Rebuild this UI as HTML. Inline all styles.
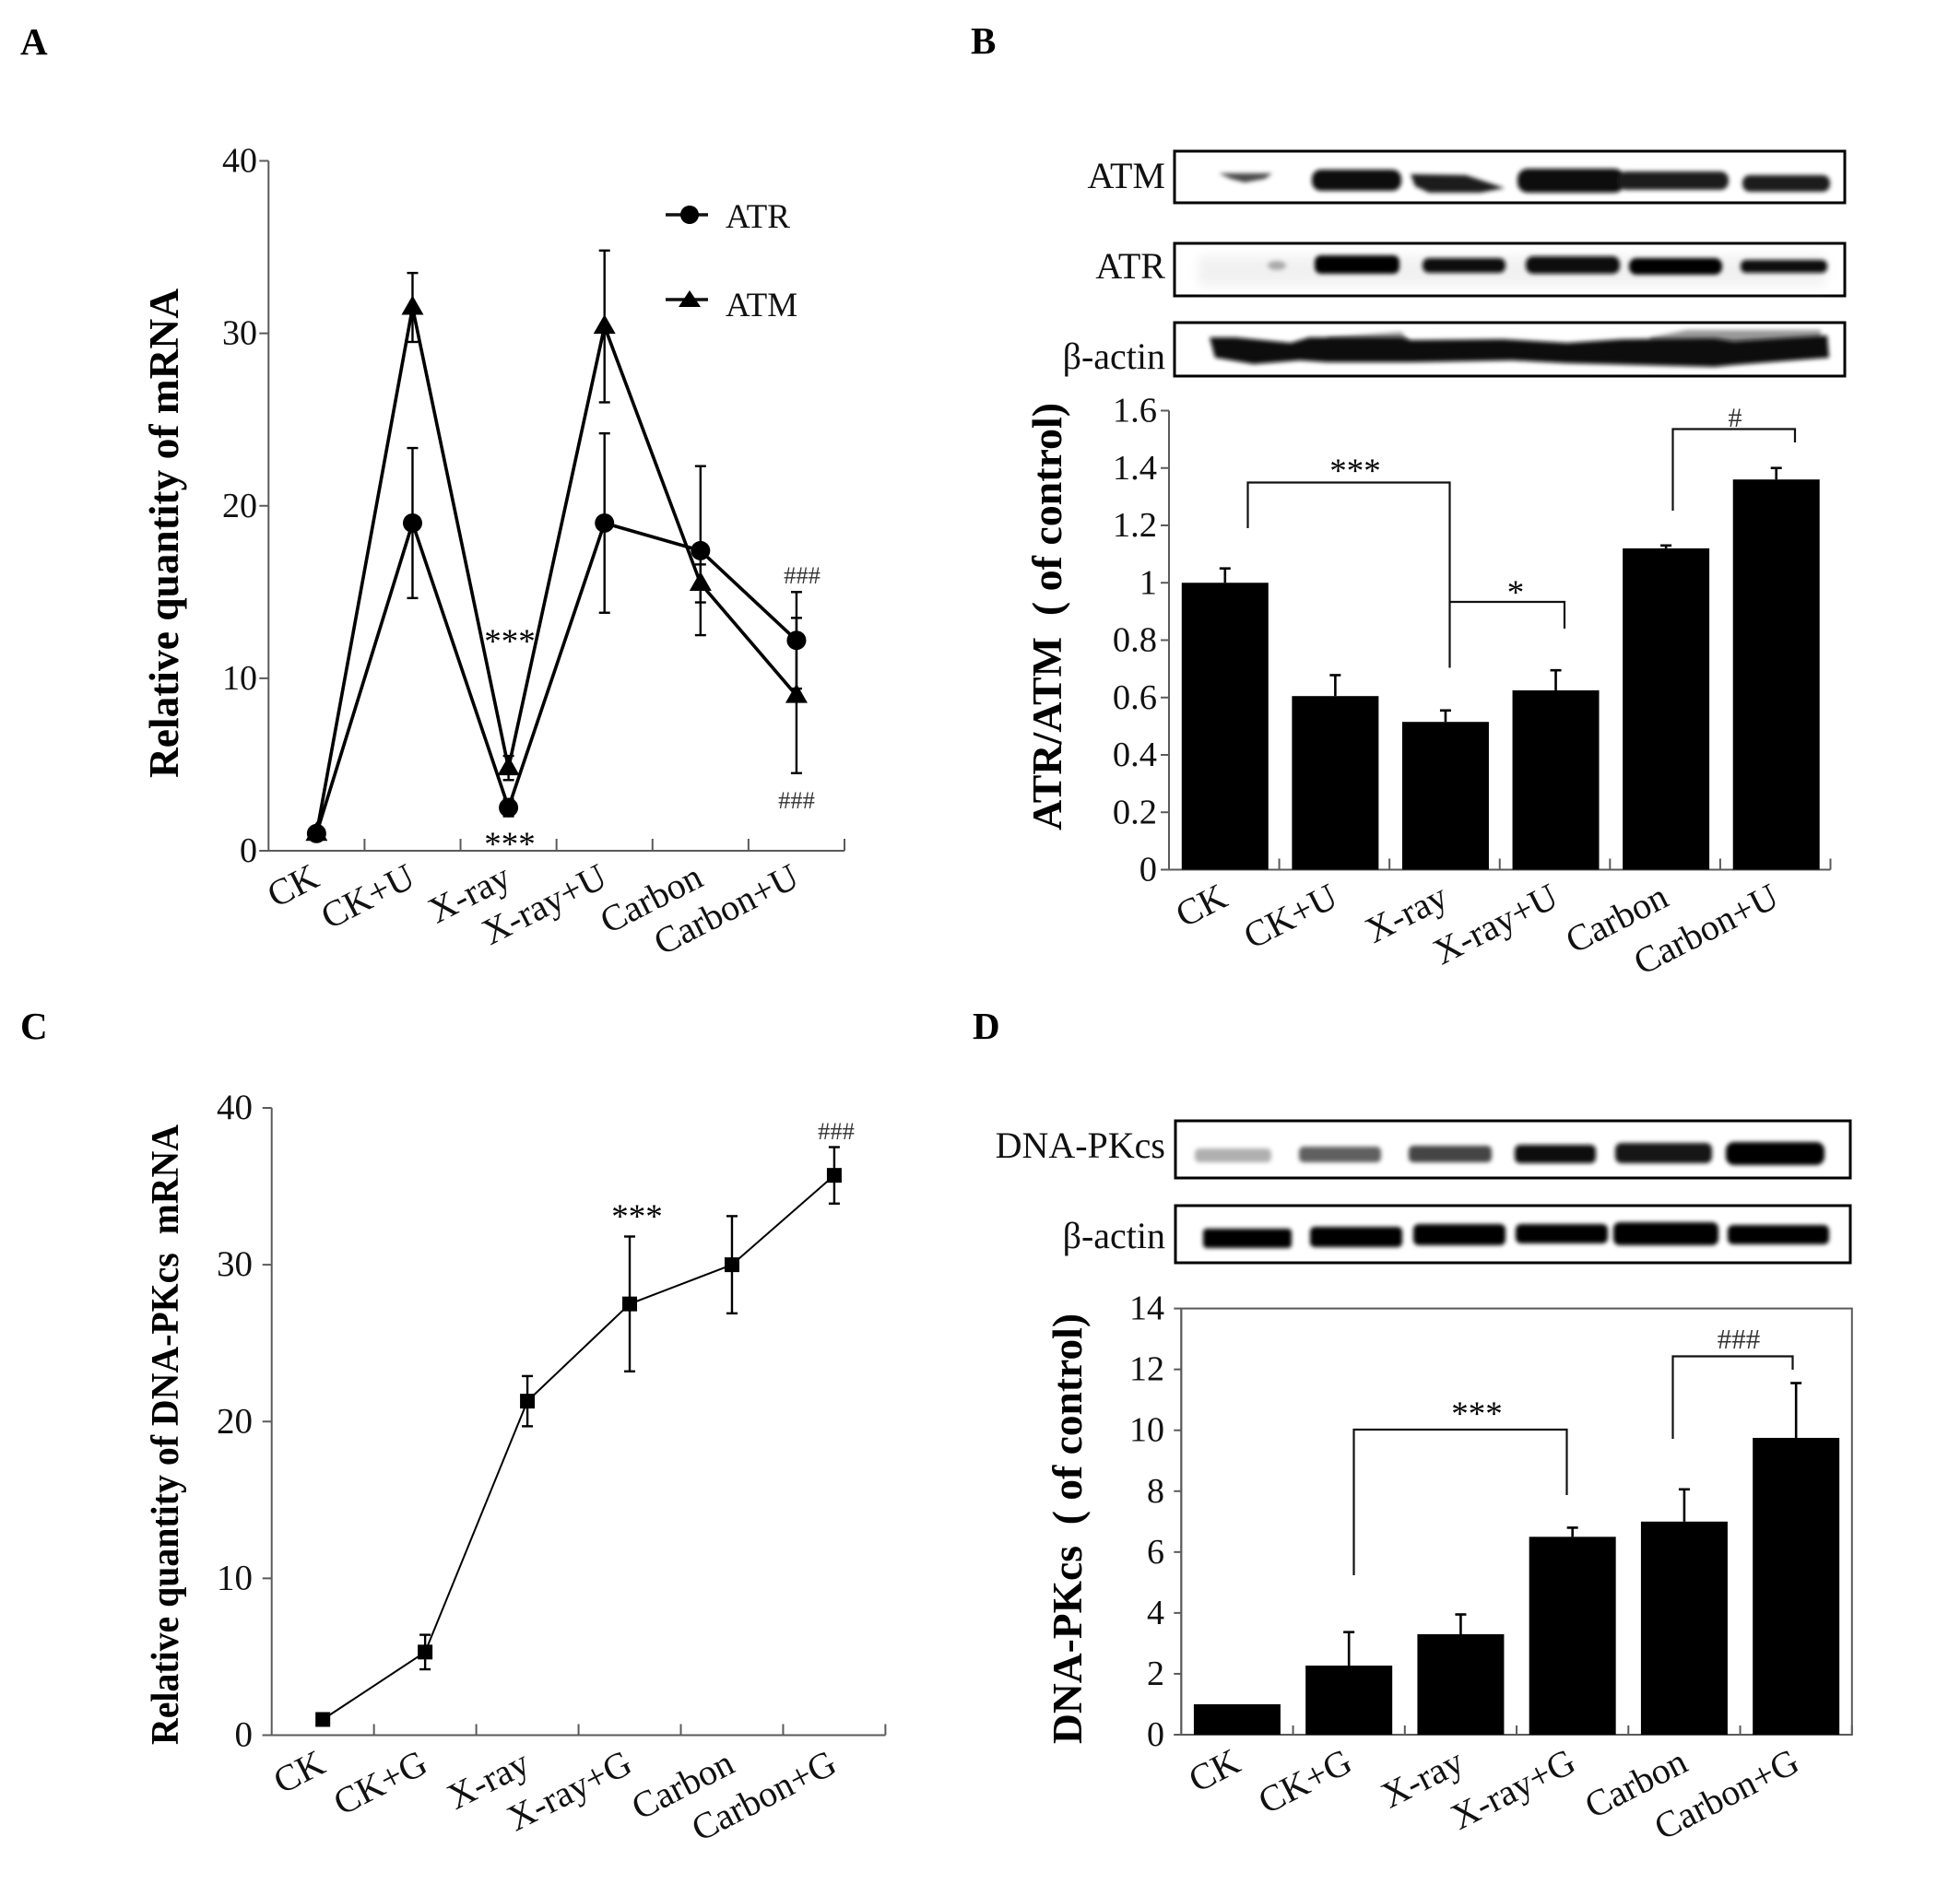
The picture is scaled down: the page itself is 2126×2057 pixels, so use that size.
<!DOCTYPE html>
<html lang="en">
<head>
<meta charset="utf-8">
<title>ATR, ATM and DNA-PKcs expression</title>
<style>
html,body{margin:0;padding:0;background:#fff;}
svg{display:block;}
text{font-family:"Liberation Serif",serif;fill:#111;}
.panel{font-weight:bold;font-size:41px;fill:#000;}
.title{font-weight:bold;fill:#000;}
.cat{font-size:40px;}
.blot-label{font-size:40px;}
.star{font-size:37px;fill:#000;}
.hash{fill:#333;}
.box{fill:#fff;stroke:#000;stroke-width:3;}
.br{fill:none;stroke:#111;stroke-width:2.2;}
</style>
</head>
<body>
<svg id="fig" xmlns="http://www.w3.org/2000/svg" width="2126" height="2057" viewBox="0 0 2126 2057">
<defs>
<filter id="b3" x="-20%" y="-60%" width="140%" height="220%"><feGaussianBlur stdDeviation="2.4"/></filter>
<filter id="b6" x="-20%" y="-80%" width="140%" height="260%"><feGaussianBlur stdDeviation="6"/></filter>
</defs>
<rect width="2126" height="2057" fill="#fff"/>

<text class="panel" x="22" y="59">A</text>
<text class="panel" x="1053" y="58">B</text>
<text class="panel" x="22" y="1127">C</text>
<text class="panel" x="1055" y="1127">D</text>

<text class="title" transform="translate(193,844) rotate(-90)" font-size="45" textLength="531" lengthAdjust="spacingAndGlyphs">Relative quantity of mRNA</text>
<text class="title" transform="translate(1151,901) rotate(-90)" font-size="45" textLength="464" lengthAdjust="spacingAndGlyphs" xml:space="preserve">ATR/ATM  ( of control)</text>
<text class="title" transform="translate(193,1893) rotate(-90)" font-size="42" textLength="673" lengthAdjust="spacingAndGlyphs" xml:space="preserve">Relative quantity of DNA-PKcs  mRNA</text>
<text class="title" transform="translate(1173,1892) rotate(-90)" font-size="45" textLength="467" lengthAdjust="spacingAndGlyphs" xml:space="preserve">DNA-PKcs  ( of control)</text>

<!-- Panel B blots -->
<g>
<rect class="box" x="1274" y="164" width="727" height="56"/>
<g filter="url(#b3)" fill="#0b0b0b">
<path d="M1322 188 L1380 188 L1372 194 L1350 198 L1335 194 Z" fill="#4a4a4a"/>
<rect x="1423" y="184" width="97" height="23" rx="10"/>
<path d="M1530 189 L1590 190 L1632 204 L1606 209 L1550 209 L1535 202 Z" fill="#1c1c1c"/>
<rect x="1646" y="183" width="116" height="26" rx="11"/>
<rect x="1755" y="186" width="120" height="20" rx="9" fill="#1a1a1a"/>
<rect x="1890" y="190" width="95" height="18" rx="8" fill="#1c1c1c"/>
</g>
<text class="blot-label" x="1264" y="204" text-anchor="end">ATM</text>
</g>
<g>
<rect class="box" x="1274" y="264" width="727" height="57"/>
<rect x="1300" y="278" width="680" height="32" fill="#f1f1f1" filter="url(#b6)"/>
<g filter="url(#b3)" fill="#060606">
<ellipse cx="1385" cy="288" rx="10" ry="5" fill="#aaa"/>
<rect x="1426" y="277" width="92" height="20" rx="7"/>
<rect x="1543" y="280" width="90" height="16" rx="7" fill="#101010"/>
<rect x="1655" y="278" width="102" height="19" rx="8" fill="#101010"/>
<rect x="1767" y="280" width="101" height="18" rx="8"/>
<rect x="1888" y="282" width="94" height="14" rx="6" fill="#101010"/>
</g>
<text class="blot-label" x="1264" y="302" text-anchor="end">ATR</text>
</g>
<g>
<rect class="box" x="1274" y="350" width="727" height="58"/>
<path d="M1440 366 L1520 360 L1530 372 L1440 374 Z M1790 366 L1830 358 L1975 358 L1975 372 L1790 374 Z" fill="#999" filter="url(#b3)"/>
<path d="M1312 366 L1340 366 L1400 372 L1420 366 L1520 366 L1530 369 L1630 368 L1700 372 L1760 368 L1860 367 L1880 370 L1982 364 L1984 388 L1880 396 L1860 398 L1780 396 L1700 394 L1640 391 L1530 393 L1440 393 L1410 391 L1360 395 L1318 388 Z" fill="#080808" filter="url(#b3)"/>
<text class="blot-label" x="1264" y="400" text-anchor="end">β-actin</text>
</g>

<!-- Panel D blots -->
<g>
<rect class="box" x="1275" y="1216" width="732" height="62"/>
<g filter="url(#b3)">
<rect x="1296" y="1246" width="83" height="15" rx="5" fill="#b0b0b0"/>
<rect x="1409" y="1244" width="89" height="17" rx="5" fill="#606060"/>
<rect x="1528" y="1243" width="90" height="18" rx="5" fill="#444"/>
<rect x="1643" y="1242" width="88" height="20" rx="6" fill="#080808"/>
<rect x="1752" y="1240" width="105" height="22" rx="7" fill="#121212"/>
<rect x="1872" y="1239" width="107" height="25" rx="9" fill="#030303"/>
</g>
<text class="blot-label" x="1264" y="1256" text-anchor="end">DNA-PKcs</text>
</g>
<g>
<rect class="box" x="1275" y="1308" width="732" height="62"/>
<g filter="url(#b3)" fill="#030303">
<rect x="1305" y="1333" width="96" height="21" rx="4"/>
<rect x="1421" y="1331" width="100" height="22" rx="5"/>
<rect x="1533" y="1328" width="100" height="23" rx="6"/>
<rect x="1644" y="1328" width="100" height="21" rx="6"/>
<rect x="1750" y="1326" width="114" height="25" rx="7"/>
<rect x="1874" y="1329" width="110" height="21" rx="6"/>
</g>
<text class="blot-label" x="1264" y="1354" text-anchor="end">β-actin</text>
</g>

<g id="chartA"></g>
<g id="chartB"></g>
<g id="chartC"></g>
<g id="chartD"></g>

<!-- Significance annotations -->
<g>
<text class="star" x="553" y="708" text-anchor="middle">***</text>
<text class="star" x="553" y="928" text-anchor="middle">***</text>
<text class="hash" x="870" y="633" text-anchor="middle" font-size="26.5">###</text>
<text class="hash" x="864" y="877" text-anchor="middle" font-size="26.5">###</text>
</g>
<g>
<polyline class="br" points="1353.5,573 1353.5,523.5 1572.5,523.5 1572.5,724.5"/>
<polyline class="br" points="1573,653 1697,653 1697,682"/>
<polyline class="br" points="1814.5,554 1814.5,465.5 1947,465.5 1947,480"/>
<text class="star" x="1470" y="523" text-anchor="middle">***</text>
<text class="star" x="1644" y="655" text-anchor="middle">*</text>
<text class="hash" x="1882" y="463" text-anchor="middle" font-size="30">#</text>
</g>
<g>
<text class="star" x="691" y="1332" text-anchor="middle">***</text>
<text class="hash" x="907" y="1236" text-anchor="middle" font-size="26.5">###</text>
</g>
<g>
<polyline class="br" points="1468.5,1709 1468.5,1551 1699.5,1551 1699.5,1622"/>
<polyline class="br" points="1814.5,1561 1814.5,1471.5 1944.5,1471.5 1944.5,1486"/>
<text class="star" x="1602" y="1546" text-anchor="middle">***</text>
<text class="hash" x="1886" y="1463" text-anchor="middle" font-size="31">###</text>
</g>

<!-- Legend for panel A -->
<g>
<line x1="722" x2="768" y1="233" y2="233" stroke="#111" stroke-width="3.6"/>
<circle cx="748" cy="233" r="10" fill="#000"/>
<text x="787" y="247" font-size="37">ATR</text>
<line x1="722" x2="768" y1="325" y2="325" stroke="#111" stroke-width="3.6"/>
<polygon points="748,315 760,333 736,333" fill="#000"/>
<text x="787" y="343" font-size="37">ATM</text>
</g>
</svg>

<script>
// Panel A: relative mRNA quantity
const categoriesA = ['CK', 'CK+U', 'X-ray', 'X-ray+U', 'Carbon', 'Carbon+U'];
const atrValues = [1, 19, 2.5, 19, 17.4, 12.2];
const atrErrors = [0, 4.35, 0.5, 5.2, 4.9, 2.8];
const atmValues = [1, 31.5, 4.8, 30.4, 15.5, 9];
const atmErrors = [0, 2, 0.7, 4.4, 1.1, 4.5];
const ticksA = [0, 10, 20, 30, 40];

// Panel B: ATR/ATM ratio
const categoriesB = ['CK', 'CK+U', 'X-ray', 'X-ray+U', 'Carbon', 'Carbon+U'];
const ratioValues = [1, 0.605, 0.515, 0.625, 1.12, 1.36];
const ratioErrors = [0.05, 0.073, 0.04, 0.07, 0.01, 0.04];
const ticksB = [0, 0.2, 0.4, 0.6, 0.8, 1, 1.2, 1.4, 1.6];

// Panel C: DNA-PKcs mRNA
const categoriesC = ['CK', 'CK+G', 'X-ray', 'X-ray+G', 'Carbon', 'Carbon+G'];
const pkcsMrnaValues = [1, 5.3, 21.3, 27.5, 30, 35.7];
const pkcsMrnaErrors = [0, 1.1, 1.6, 4.3, 3.1, 1.8];
const ticksC = [0, 10, 20, 30, 40];

// Panel D: DNA-PKcs protein
const categoriesD = ['CK', 'CK+G', 'X-ray', 'X-ray+G', 'Carbon', 'Carbon+G'];
const pkcsProteinValues = [1, 2.27, 3.3, 6.5, 7, 9.75];
const pkcsProteinErrors = [0, 1.1, 0.65, 0.3, 1.06, 1.8];
const ticksD = [0, 2, 4, 6, 8, 10, 12, 14];

const NS = 'http://www.w3.org/2000/svg';
function make(parent, tag, attrs, text) {
  const node = document.createElementNS(NS, tag);
  for (const key in attrs) node.setAttribute(key, attrs[key]);
  if (text !== undefined) node.textContent = text;
  parent.appendChild(node);
  return node;
}
function scaleX(left, right, count) {
  return function (i) { return left + (right - left) * (i + 0.5) / count; };
}
function scaleY(bottom, top, max) {
  return function (v) { return bottom - (bottom - top) * v / max; };
}
function drawAxes(root, o, cats, ticks, x, y) {
  const axisColor = '#5a5a5a';
  const yLine = make(root, 'line', {x1: o.left, x2: o.left, y1: o.top, y2: o.bottom, stroke: axisColor, 'stroke-width': 2});
  
  
  const xLine = make(root, 'line', {x1: o.left - o.tickY, x2: o.right, y1: o.bottom, y2: o.bottom, stroke: axisColor, 'stroke-width': 2});
  
  
  ticks.forEach(function (t) {
    const tick = make(root, 'line', {x1: o.left - o.tickY, x2: o.left, y1: y(t), y2: y(t), stroke: axisColor, 'stroke-width': 2});
    
    
    const label = make(root, 'text', {x: o.labelRight, y: y(t) + 12, 'text-anchor': 'end', 'font-size': o.tickFont}, String(t));
    
    
  });
  const step = (o.right - o.left) / cats.length;
  cats.forEach(function (c, i) {
    const tx = o.left + step * (i + 1);
    const tick = make(root, 'line', {x1: tx, x2: tx, y1: o.bottom - o.tickX, y2: o.bottom, stroke: axisColor, 'stroke-width': 2});
    
    
    const lx = x(i) + o.catDx;
    const ly = o.bottom + o.catDy;
    const label = make(root, 'text', {class: 'cat', 'text-anchor': 'end', transform: 'translate(' + lx + ',' + ly + ') rotate(-27)'}, c);
    
    
  });
}
function drawError(root, px, hi, lo, cap, width, name) {
  const stem = make(root, 'line', {x1: px, x2: px, y1: hi, y2: lo, stroke: '#000', 'stroke-width': width});
  
  
  const capTop = make(root, 'line', {x1: px - cap, x2: px + cap, y1: hi, y2: hi, stroke: '#000', 'stroke-width': width});
  
  
  if (lo !== hi) {
    const capLow = make(root, 'line', {x1: px - cap, x2: px + cap, y1: lo, y2: lo, stroke: '#000', 'stroke-width': width});
    
    
  }
}
function drawLine(root, values, x, y, width, name) {
  const pts = values.map(function (v, i) { return x(i) + ',' + y(v); }).join(' ');
  const line = make(root, 'polyline', {points: pts, fill: 'none', stroke: '#000', 'stroke-width': width, 'stroke-linejoin': 'miter'});
  
  
}
function drawBars(root, values, errors, x, y, bottom, width, shift) {
  values.forEach(function (v, i) {
    const cx = x(i) + shift;
    const top = y(v);
    const err = y(v + errors[i]);
    if (errors[i] > 0) {
      const stem = make(root, 'line', {x1: cx, x2: cx, y1: err, y2: top, stroke: '#000', 'stroke-width': 2.6});
      
      
      const cap = make(root, 'line', {x1: cx - 6, x2: cx + 6, y1: err, y2: err, stroke: '#000', 'stroke-width': 2.6});
      
      
    }
    const bar = make(root, 'rect', {x: cx - width / 2, y: top, width: width, height: bottom - top, fill: '#000'});
    
    
  });
}

// ---- Panel A ----
const layoutA = {left: 291.3, right: 916, top: 174.5, bottom: 923, tickY: 10, tickX: 13, labelRight: 279, tickFont: 38, catDx: 5, catDy: 37};
const xA = scaleX(layoutA.left, layoutA.right, categoriesA.length);
const yA = scaleY(layoutA.bottom, layoutA.top, 40);
const rootA = document.getElementById('chartA');
drawAxes(rootA, layoutA, categoriesA, ticksA, xA, yA);
atrValues.forEach(function (v, i) {
  if (atrErrors[i] > 0) drawError(rootA, xA(i), yA(v + atrErrors[i]), yA(v - atrErrors[i]), 6, 2.4, 'atr-error-bar');
});
atmValues.forEach(function (v, i) {
  if (atmErrors[i] > 0) drawError(rootA, xA(i), yA(v + atmErrors[i]), yA(v - atmErrors[i]), 6, 2.4, 'atm-error-bar');
});
drawLine(rootA, atrValues, xA, yA, 3.6, 'atr-line');
drawLine(rootA, atmValues, xA, yA, 3.6, 'atm-line');
atmValues.forEach(function (v, i) {
  const cx = xA(i);
  const cy = yA(v);
  const tri = make(rootA, 'polygon', {points: cx + ',' + (cy - 13) + ' ' + (cx + 12) + ',' + (cy + 8) + ' ' + (cx - 12) + ',' + (cy + 8), fill: '#000'});
  
  
});
atrValues.forEach(function (v, i) {
  const dot = make(rootA, 'circle', {cx: xA(i), cy: yA(v), r: 10.5, fill: '#000'});
  
  
});

// ---- Panel B ----
const layoutB = {left: 1268, right: 1985.5, top: 445.5, bottom: 943.5, tickY: 9, tickX: 12, labelRight: 1255, tickFont: 38.5, catDx: 6, catDy: 38};
const xB = scaleX(layoutB.left, layoutB.right, categoriesB.length);
const yB = scaleY(layoutB.bottom, layoutB.top, 1.6);
const rootB = document.getElementById('chartB');
drawAxes(rootB, layoutB, categoriesB, ticksB, xB, yB);
drawBars(rootB, ratioValues, ratioErrors, xB, yB, layoutB.bottom, 94, 1);

// ---- Panel C ----
const layoutC = {left: 294.7, right: 960.4, top: 1202, bottom: 1882.5, tickY: 10, tickX: 12, labelRight: 274, tickFont: 39, catDx: 5, catDy: 39};
const xC = scaleX(layoutC.left, layoutC.right, categoriesC.length);
const yC = scaleY(layoutC.bottom, layoutC.top, 40);
const rootC = document.getElementById('chartC');
drawAxes(rootC, layoutC, categoriesC, ticksC, xC, yC);
pkcsMrnaValues.forEach(function (v, i) {
  if (pkcsMrnaErrors[i] > 0) drawError(rootC, xC(i), yC(v + pkcsMrnaErrors[i]), yC(v - pkcsMrnaErrors[i]), 6, 2.4, 'pkcs-error-bar');
});
drawLine(rootC, pkcsMrnaValues, xC, yC, 2, 'pkcs-line');
pkcsMrnaValues.forEach(function (v, i) {
  const square = make(rootC, 'rect', {x: xC(i) - 8, y: yC(v) - 8, width: 16, height: 16, fill: '#000'});
  
  
});

// ---- Panel D ----
const layoutD = {left: 1281.3, right: 2008.8, top: 1419.6, bottom: 1882, tickY: 8, tickX: 10, labelRight: 1263, tickFont: 38, catDx: 6, catDy: 38};
const xD = scaleX(layoutD.left, layoutD.right, categoriesD.length);
const yD = scaleY(layoutD.bottom, layoutD.top, 14);
const rootD = document.getElementById('chartD');
drawAxes(rootD, layoutD, categoriesD, ticksD, xD, yD);
const frameD = make(rootD, 'rect', {x: layoutD.left, y: layoutD.top, width: layoutD.right - layoutD.left, height: layoutD.bottom - layoutD.top, fill: 'none', stroke: '#5a5a5a', 'stroke-width': 2});


drawBars(rootD, pkcsProteinValues, pkcsProteinErrors, xD, yD, layoutD.bottom, 94, 0);
</script>
</body>
</html>
